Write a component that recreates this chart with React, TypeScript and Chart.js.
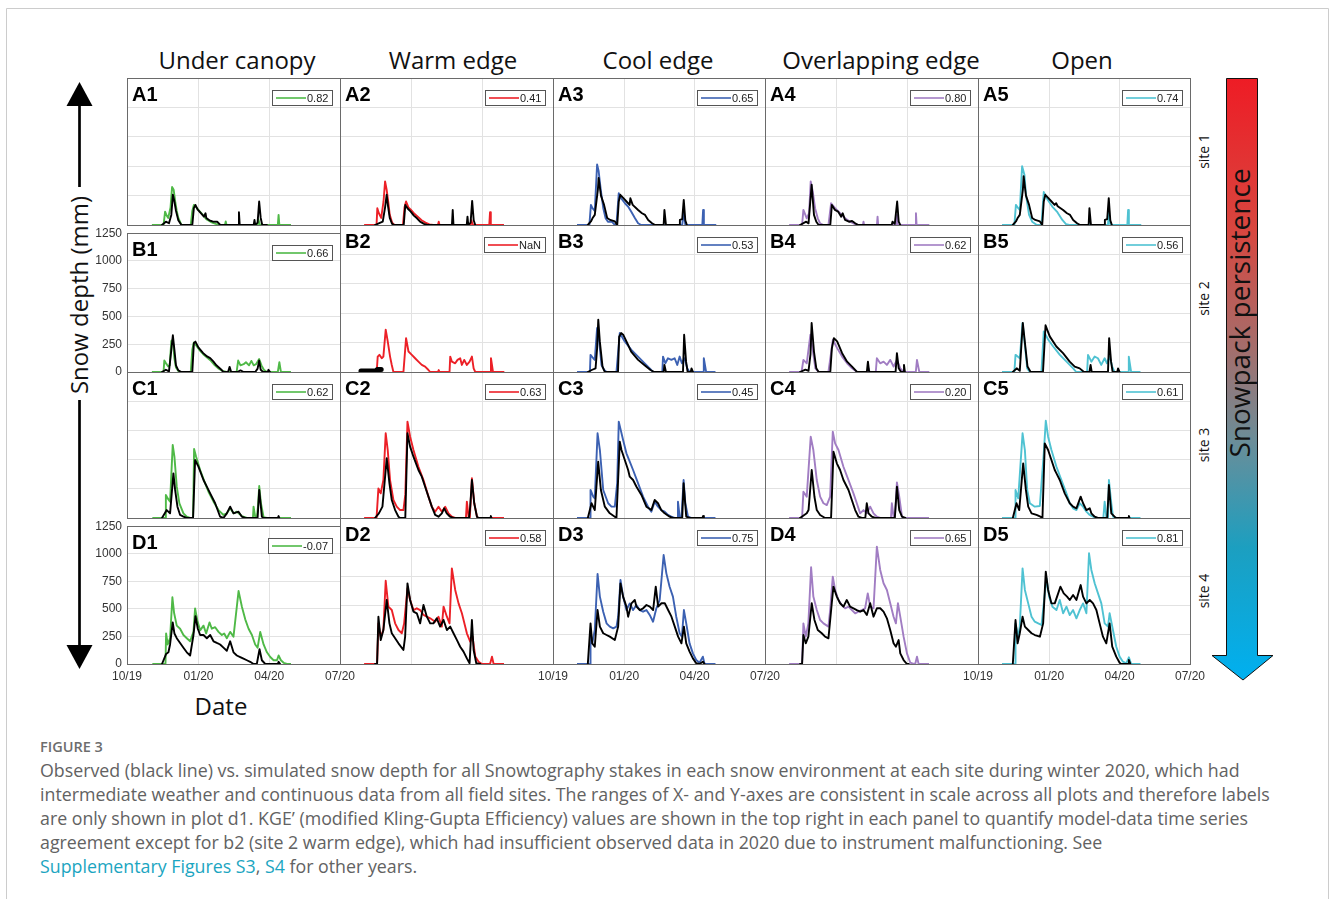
import React, { useEffect, useRef } from "react";
import { Chart, registerables } from "chart.js";

Chart.register(...registerables);

// ---- axes (x = days since 1 Oct 2019, y = snow depth in mm) ----
const dateTickDays = [0, 92, 183, 274];
const dateTickLabels = ["10/19", "01/20", "04/20", "07/20"];
const depthTicks = [0, 250, 500, 750, 1000, 1250];

const environments = ["Under canopy", "Warm edge", "Cool edge", "Overlapping edge", "Open"];
const siteNames = ["site 1", "site 2", "site 3", "site 4"];
const rowLetters = ["A", "B", "C", "D"];
const envColors = ["#4fb947", "#ec2027", "#3c61b2", "#a17dc3", "#4fc2d2"];

// KGE' per environment, one list per site
const kgeSite1 = [0.82, 0.41, 0.65, 0.8, 0.74];
const kgeSite2 = [0.66, NaN, 0.53, 0.62, 0.56];
const kgeSite3 = [0.62, 0.63, 0.45, 0.2, 0.61];
const kgeSite4 = [-0.07, 0.58, 0.75, 0.65, 0.81];

type Pt = [number, number];

// ---- site 1 ----
const simA1: Pt[] = [[32,0],[47,0],[49,114],[51,80],[53,60],[56,150],[58,323],[60,300],[62,200],[64,120],[66,60],[70,0],[82,0],[84,120],[86,171],[89,150],[93,120],[97,90],[102,50],[108,25],[114,10],[120,0],[126,0],[127,30],[128,0],[168,0],[169,50],[171,0],[194,0],[195,86],[196,0],[211,0]];
const obsA1: Pt[] = [[45,0],[50,28],[54,15],[57,86],[59,257],[61,200],[63,120],[66,40],[70,0],[84,0],[86,143],[88,171],[91,130],[95,100],[99,71],[101,100],[102,60],[106,40],[110,30],[116,28],[120,0],[143,0],[144,108],[145,0],[163,0],[164,43],[165,0],[168,20],[170,200],[172,60],[174,0],[180,0]];
const simA2: Pt[] = [[31,0],[47,0],[48,143],[50,100],[53,60],[56,200],[58,371],[60,300],[62,200],[64,86],[67,20],[70,0],[81,0],[83,150],[85,200],[88,150],[91,130],[95,100],[100,70],[105,40],[110,20],[115,5],[120,0],[126,0],[127,28],[128,0],[168,0],[169,40],[171,0],[192,0],[193,108],[194,0],[211,0]];
const obsA2: Pt[] = [[45,0],[52,20],[55,28],[58,150],[60,257],[62,150],[64,60],[67,10],[70,0],[82,0],[84,171],[87,140],[91,114],[95,80],[99,57],[103,28],[108,10],[112,0],[144,0],[145,128],[146,0],[163,0],[164,71],[165,0],[168,20],[170,205],[172,40],[174,0]];
const simA3: Pt[] = [[31,0],[47,0],[49,171],[51,143],[54,120],[57,514],[59,457],[62,285],[65,143],[68,57],[71,28],[76,28],[80,0],[82,0],[85,271],[88,228],[93,185],[97,157],[101,114],[106,57],[110,15],[114,0],[167,0],[169,114],[171,0],[193,0],[194,128],[195,0],[211,0]];
const obsA3: Pt[] = [[45,0],[49,30],[51,57],[54,86],[58,300],[59,400],[62,250],[66,171],[70,60],[74,43],[80,30],[83,0],[85,200],[87,257],[91,228],[95,200],[99,171],[100,228],[103,171],[110,128],[115,100],[119,86],[123,43],[128,15],[132,0],[143,0],[144,128],[146,0],[163,0],[164,43],[167,50],[169,214],[171,40],[173,0]];
const simA4: Pt[] = [[31,0],[47.7,0],[49.4,128],[53.7,57],[56.7,100],[58.8,371],[61.4,285],[64.4,143],[67.9,57],[70.9,14],[75.2,0],[81.6,0],[85,185],[90.2,143],[96.6,100],[103.1,57],[109.5,28],[116,6],[120.2,0],[126,0],[126.7,28],[127.5,0],[144,0],[144.8,71],[145.6,0],[168.8,0],[169.7,86],[170.5,0],[193.3,0],[194.2,100],[195,0],[211.4,0]];
const obsA4: Pt[] = [[45,0],[53,28],[56,14],[60,342],[63,86],[66,28],[69,0],[84,0],[86,171],[90,128],[94,114],[98,71],[100,100],[103,43],[108,28],[112,34],[116,14],[120,0],[163,0],[164,28],[167,10],[170,200],[172,28],[174,0]];
const simA5: Pt[] = [[31,0],[47,0],[49,171],[52,143],[54,128],[57,500],[60,428],[62,257],[66,86],[70,28],[76,0],[82,0],[85,280],[90,214],[96,157],[102,114],[109,43],[114,6],[118,0],[168,0],[169,114],[171,0],[193,0],[194,128],[195,0],[211,0]];
const obsA5: Pt[] = [[45,0],[49,30],[51,57],[54,86],[58,300],[59,414],[62,250],[66,171],[70,60],[74,43],[80,30],[83,0],[85,200],[87,257],[91,228],[95,200],[99,171],[101,185],[103,160],[110,128],[115,100],[119,86],[123,43],[128,15],[132,0],[143,0],[144,143],[146,0],[163,0],[164,43],[167,50],[169,228],[171,40],[173,0]];

// ---- site 2 ----
const simB1: Pt[] = [[32,0],[47,0],[48,103],[50,80],[53,50],[55,60],[57,280],[59,290],[61,120],[63,40],[66,10],[68,0],[82,0],[84,200],[86,265],[89,240],[93,200],[98,160],[103,130],[108,100],[113,60],[118,30],[123,10],[128,0],[141,0],[143,103],[146,60],[150,70],[153,88],[157,60],[160,100],[163,60],[166,70],[170,117],[173,60],[176,20],[180,0],[194,0],[196,88],[198,0],[211,0]];
const obsB1: Pt[] = [[45,0],[50,20],[54,5],[57,200],[59,331],[61,200],[63,60],[66,15],[70,0],[84,0],[86,260],[88,274],[92,220],[98,170],[103,140],[107,125],[111,95],[115,60],[120,30],[124,0],[130,0],[132,46],[134,0],[142,0],[146,15],[150,0],[165,0],[168,30],[170,103],[172,20],[175,0],[181,0],[182,20],[184,0]];
const simB2: Pt[] = [[31.4,0],[47.2,0],[48.5,131],[50.7,146],[53.7,117],[55.8,131],[58.8,360],[61.4,260],[64.4,131],[66.6,60],[68.7,0],[81.6,0],[85,288],[88.1,174],[92.4,146],[96.6,117],[100.9,88],[105.2,60],[109.5,46],[113.8,17],[116,0],[125.9,0],[127,17],[128,0],[140.9,0],[141.8,131],[143.9,88],[148.2,74],[151.2,103],[154.6,117],[156.8,60],[159.8,103],[163.2,60],[166.7,88],[169.7,131],[171.9,31],[174,0],[193.3,0],[194.2,117],[196.8,0],[211.4,0]];
const obsB2: Pt[] = [[27,8],[46,8],[48,22],[53,22]];
const simB3: Pt[] = [[31,0],[47.7,0],[48.5,146],[52,117],[54,103],[57,374],[59.7,260],[62.7,60],[66.2,17],[69.2,0],[82,0],[86.3,331],[92.7,260],[101.3,188],[109.9,131],[118.5,74],[125,31],[129.3,0],[141.3,0],[142.2,131],[145.2,74],[148.6,117],[153,103],[157.2,117],[160.6,60],[163.7,131],[166.6,74],[170,117],[173.5,31],[176.5,0],[194,0],[194.9,117],[197.9,0],[210,0]];
const obsB3: Pt[] = [[45,0],[50,17],[55,31],[57,200],[58.5,445],[60.5,260],[64,46],[67,0],[84,0],[85.5,300],[88,331],[91,314],[96,245],[101,174],[110,103],[118,60],[126,17],[131,0],[143,0],[144,60],[146,0],[168,0],[169.5,317],[172,88],[174,0],[178,0],[179,31],[181,0]];
const simB4: Pt[] = [[31,0],[47,0],[49.4,103],[53.7,74],[58.4,317],[61.7,174],[64.8,31],[69,0],[81.6,0],[87.3,274],[92.8,203],[99.2,131],[105.6,74],[112,31],[118.4,0],[132,0],[133.2,31],[134.5,0],[142.5,0],[143.9,117],[148.2,74],[152.5,88],[156.8,60],[161.1,103],[165.4,46],[169.7,103],[174,31],[178.3,0],[194,0],[195.5,103],[198.5,0],[211.4,0]];
const obsB4: Pt[] = [[45,0],[52,20],[56,10],[58.5,150],[60,417],[63,174],[66,31],[69,0],[84,0],[86,200],[88.6,288],[92.8,260],[99.2,160],[105.6,88],[112,46],[118.4,0],[131,0],[132.4,88],[134,0],[168,0],[169.7,160],[172,31],[175,0],[178,0],[178.8,60],[180,0]];
const simB5: Pt[] = [[31,0],[47,0],[48.5,146],[54,117],[57.6,417],[60.6,231],[63.6,31],[67,0],[82,0],[85,345],[90.8,274],[97.2,217],[105.8,146],[114.4,88],[123,31],[127,0],[141,0],[142.2,146],[146.5,88],[150.8,131],[155,117],[159.3,60],[163.7,117],[166.6,74],[170,131],[173.5,46],[176.5,0],[194,0],[194.9,131],[197.9,0],[210,0]];
const obsB5: Pt[] = [[45,0],[50,31],[54,10],[57.9,417],[61.4,203],[64,46],[68,0],[84,0],[87.3,397],[92.7,303],[101.3,217],[109.9,160],[118.5,88],[125,46],[131.4,31],[137,0],[144,0],[145.5,60],[147,0],[168,0],[169.5,288],[172,88],[174,0],[180,0],[181,31],[183,0]];

// ---- site 3 ----
const simC1: Pt[] = [[32.6,0],[49,0],[50,197],[52.4,168],[55.4,140],[58.8,625],[61,525],[64,268],[67.4,126],[72.6,40],[76.9,11],[81,0],[85,0],[86.3,591],[88.9,525],[94.1,411],[100.5,297],[104.8,225],[111.3,140],[117.7,68],[124.1,26],[128.4,40],[132.7,83],[137,40],[141.3,54],[147.8,17],[154.2,0],[162,0],[162.8,97],[164.9,11],[167,0],[168.5,100],[170.1,274],[172.3,126],[175.7,6],[180,0],[211,0]];
const obsC1: Pt[] = [[45,0],[51.1,68],[55.4,40],[59.7,382],[61.9,240],[64.9,97],[68.3,26],[72.6,11],[76.9,0],[85,0],[87.6,497],[91.9,440],[98.4,325],[102.7,268],[107,211],[113.4,126],[119.8,11],[124.1,0],[128.4,40],[132.7,97],[137,40],[143.5,54],[147.8,11],[152,0],[168,0],[170.1,240],[173.5,11],[176,0],[194,0],[195,17],[196,0]];
const simC2: Pt[] = [[31,0],[47,0],[49.4,254],[52.4,211],[55.8,325],[58.8,725],[61.4,582],[64.4,325],[68.7,154],[73,97],[77.3,68],[81.6,68],[84,200],[86.8,825],[90.2,696],[94.5,582],[100.9,439],[107.4,325],[113.8,183],[118.1,97],[122.4,54],[126.7,97],[131,54],[135.3,97],[139.6,40],[143.9,11],[148.2,0],[162,0],[163.2,140],[165.4,11],[167,0],[169.7,340],[172.7,126],[176.2,11],[178,0],[211,0]];
const obsC2: Pt[] = [[45,0],[50,40],[54.6,97],[60.1,511],[63.6,297],[66.6,154],[70.9,68],[75.2,11],[77.3,0],[84,0],[86.8,725],[90.2,611],[94.5,525],[100.9,411],[105.2,354],[109.5,268],[113.8,183],[118.1,97],[122.4,26],[126.7,11],[131,40],[134,83],[137.3,40],[141.6,11],[146,0],[166,0],[167.5,97],[169.7,325],[172.7,126],[176.2,11],[178,0],[193,0],[194,17],[195,0]];
const simC3: Pt[] = [[31,0],[48,0],[48.5,240],[52,183],[54,168],[57.6,725],[60.6,582],[64.9,240],[71.3,126],[75.6,97],[79.9,97],[83,300],[85,825],[90.6,668],[94.9,554],[99.2,482],[103.5,411],[110,297],[116.4,183],[122.8,97],[127.1,54],[131.4,140],[135.7,97],[140,68],[144.3,54],[148.6,26],[152.9,11],[157.2,0],[161,0],[161.5,140],[163.7,11],[166,0],[168.8,325],[171,126],[174.5,11],[178.5,0],[210,0]];
const obsC3: Pt[] = [[45,0],[49.8,126],[54,68],[58.4,482],[61.9,240],[67,97],[73.4,40],[79.9,11],[82,0],[86.3,654],[88.5,582],[92.8,497],[97.1,411],[99.2,354],[103.5,325],[107.9,268],[114.3,197],[120.7,97],[127.1,68],[131.4,154],[135.7,126],[140,68],[144.3,40],[150.7,11],[155,0],[167,0],[168.8,297],[172.2,11],[176.5,0],[193,0],[194,17],[195,0]];
const simC4: Pt[] = [[31,0],[47.7,0],[49.4,225],[53.7,183],[58.8,696],[62.2,582],[66.6,325],[70.9,183],[75.2,126],[79.5,111],[83.8,183],[87.2,739],[90.2,639],[94.5,582],[100.9,439],[107.4,325],[113.8,211],[118.1,126],[122.4,40],[126.7,68],[131,40],[135.3,97],[139.6,40],[143.9,11],[148.2,0],[162,0],[163.2,126],[165.4,11],[167,0],[169.7,305],[172.7,183],[176.2,11],[178.5,0],[211,0]];
const obsC4: Pt[] = [[45,0],[53.7,40],[56,68],[60.1,411],[63.6,182],[66.6,68],[70.9,26],[77.3,0],[85,0],[88.1,568],[92.4,468],[96.6,411],[100.9,325],[107.4,240],[111.7,154],[116,68],[120.2,11],[124.5,0],[129,0],[130.9,126],[133.2,40],[137.5,11],[141.8,0],[167,0],[169.7,268],[172.7,68],[176.2,11],[180.5,0]];
const simC5: Pt[] = [[31,0],[48,0],[48.5,240],[52,168],[57.6,725],[60.6,582],[63.6,240],[67,126],[73.4,97],[79.9,103],[85,554],[87.6,833],[90.6,696],[94.9,582],[101.4,439],[107.8,325],[114.3,211],[118.6,126],[122.9,83],[127.2,68],[131.5,126],[135.8,97],[140.1,54],[144.4,26],[148.7,11],[153,0],[162,0],[163.7,140],[165.8,11],[168,0],[169.2,325],[172.3,126],[174.5,11],[178.6,0],[210,0]];
const obsC5: Pt[] = [[45,0],[49.8,126],[53.3,68],[58.4,468],[61.9,240],[64.9,97],[69.2,40],[75.6,26],[80.7,11],[83.3,0],[86.3,639],[90.6,582],[94.9,497],[99.2,411],[101.4,382],[105.7,325],[112.1,211],[118.6,126],[122.9,97],[127.2,83],[132.7,183],[135.8,126],[140.1,68],[144.4,83],[146.5,40],[150.8,11],[155,0],[167,0],[169.2,282],[172.3,40],[176.5,11],[178.6,0],[194,0],[195,17],[196,0]];

// ---- site 4 ----
const simD1: Pt[] = [[32.6,0],[49.5,0],[50.3,277],[52.4,177],[55.4,234],[58.4,605],[60.6,462],[64,348],[68.3,320],[72.6,263],[76.9,234],[81.2,206],[85.5,291],[87.6,505],[90.6,391],[94.1,305],[98.4,348],[101.8,277],[106.1,377],[109.1,320],[113.4,334],[117.7,291],[122,263],[125,277],[128.4,234],[132.7,291],[137,248],[143.5,662],[147.8,519],[152.1,405],[156.4,320],[160.7,263],[164.9,177],[168,148],[171.4,291],[175.7,177],[180,106],[184.3,63],[188.6,34],[192.9,34],[195,77],[198,34],[201.5,11],[205.8,0],[211,0]];
const obsD1: Pt[] = [[45,0],[50.3,91],[53.3,106],[55.4,177],[58.8,377],[61,277],[64,234],[68.3,191],[72.6,148],[76.9,106],[81.2,77],[85.5,263],[88.1,434],[91.1,320],[94.1,263],[98.4,263],[102.7,234],[107,263],[111.3,206],[115.5,191],[119.8,177],[124.1,148],[128.4,120],[132.7,206],[137,106],[141.3,77],[145.6,63],[149.9,48],[154.2,34],[158.5,20],[162.8,0],[167,0],[170.5,134],[173.5,34],[177.8,0],[194,0],[195,20],[197,0]];
const simD2: Pt[] = [[31,0],[47.7,0],[49.4,348],[52.4,234],[55.8,291],[58.8,713],[62.2,491],[66.6,462],[70.9,348],[75.2,291],[79.5,263],[82.5,348],[86.8,648],[90.2,548],[94.5,462],[98.8,477],[103.1,462],[107.4,420],[111.7,405],[116,391],[122.4,362],[126.7,405],[131,320],[133.2,491],[137.5,405],[140.9,348],[143.9,819],[148.2,634],[152.5,519],[156.8,434],[163.2,263],[167.5,191],[170.5,234],[174,63],[178.3,20],[182.6,0],[192,0],[193.3,6],[195.5,63],[197.6,0],[211,0]];
const obsD2: Pt[] = [[45,0],[47.7,0],[49.4,405],[52.4,205],[55.8,291],[60.1,548],[63.6,348],[66.6,263],[70.9,220],[75.2,177],[81.6,120],[83.8,234],[86.8,690],[90.2,548],[94.5,448],[98.8,434],[103.1,348],[107.4,505],[111.7,405],[116,348],[120.2,348],[124.5,391],[128.8,320],[133.2,377],[137.5,291],[141.8,320],[146,263],[150.3,206],[154.6,148],[158.9,106],[163.2,48],[166.7,6],[169.7,377],[171.9,120],[175.3,6],[180.5,0]];
const simD3: Pt[] = [[31,0],[48,0],[48.5,263],[50.7,177],[54,291],[57.6,771],[60.6,577],[64.9,448],[69.2,348],[73.4,320],[77.8,305],[82.1,320],[84.2,405],[87.2,719],[90.6,577],[94.9,462],[99.2,519],[103.5,462],[107.8,505],[112.1,462],[116.4,448],[120.7,462],[125,420],[129.3,362],[133.6,477],[137.9,548],[143,933],[146.5,776],[150.7,662],[155,577],[159.3,405],[163.7,263],[166.6,234],[169.2,462],[172.2,348],[176.5,177],[180.8,91],[185.1,34],[189.4,11],[193.7,63],[195.9,0],[210,0]];
const obsD3: Pt[] = [[45,0],[48.5,348],[50.7,177],[54,148],[57.6,462],[60.6,320],[64.9,263],[69.2,248],[73.4,234],[79.9,206],[84.2,320],[87.2,690],[90.6,577],[94.9,491],[97.1,405],[101.4,519],[105.7,548],[107.9,491],[112.2,462],[116.5,477],[120.8,505],[125.1,491],[129.4,462],[132.8,662],[135.9,491],[140.2,520],[144.5,520],[148.8,462],[153.1,405],[157.4,320],[161.7,234],[166,177],[169.2,320],[172.2,177],[176.5,106],[180.8,48],[185.1,6],[189.4,0],[193.7,20],[195.9,0]];
const simD4: Pt[] = [[31,0],[47.7,0],[49.4,348],[52.4,234],[55.8,348],[59.3,828],[62.2,577],[66.6,462],[70.9,377],[75.2,348],[81.6,320],[83.8,462],[87.2,748],[90.2,634],[94.5,548],[98.8,505],[103.1,477],[107.4,491],[111.7,462],[116,434],[120.2,448],[124.5,462],[128.8,477],[132.2,605],[135.3,491],[139.6,477],[143.9,1005],[148.2,805],[152.5,691],[156.8,634],[161.1,520],[165.4,405],[168.4,348],[171,520],[174,405],[178.3,234],[182.6,91],[186.9,11],[191.2,0],[193.5,6],[195.5,63],[197.6,0],[211,0]];
const obsD4: Pt[] = [[45,0],[47.7,0],[49.4,248],[52.4,177],[55.8,234],[60.1,520],[63.6,377],[67.9,291],[73,263],[77.3,234],[81.6,220],[85.9,520],[88,662],[92.4,577],[96.6,520],[100.9,491],[105.2,548],[109.5,491],[113.8,477],[118.1,462],[122.4,448],[126.7,462],[131,420],[135.3,520],[139.6,405],[143.9,477],[148.2,477],[152.5,448],[156.8,391],[161.1,291],[165.4,177],[168.4,148],[171.9,205],[174,91],[178.3,34],[182.6,0],[185,0]];
const simD5: Pt[] = [[31,0],[48,0],[48.5,348],[52,234],[54,320],[57.6,819],[60.6,634],[64.9,519],[69.2,405],[73.4,362],[77.8,348],[82.1,334],[85,519],[88.5,734],[91.9,577],[96.2,491],[101.4,462],[105.7,548],[110,434],[114.3,491],[118.6,419],[122.9,462],[127.2,391],[131.5,462],[135.8,519],[140.1,434],[143.5,948],[146.5,805],[150.8,691],[155.1,605],[159.4,519],[163.7,348],[168,320],[170.1,434],[174.4,291],[178.7,148],[183,63],[187.3,20],[191.6,6],[195,57],[198,0],[210,0]];
const obsD5: Pt[] = [[45,0],[48.5,377],[51.2,177],[54,263],[57.6,405],[60.6,320],[64.9,291],[69.2,263],[73.4,248],[80,234],[84.2,348],[87.6,791],[90.6,634],[94.9,519],[99.2,519],[102.2,577],[106.5,662],[110.8,605],[115.1,577],[118.6,548],[122.9,591],[127.2,548],[132.7,676],[135.8,577],[140.1,519],[144.4,548],[148.7,519],[153,462],[157.2,348],[161.5,234],[165.8,177],[170.1,348],[173.5,148],[178.7,63],[183,11],[185.1,0],[194,0],[195,34],[197,0]];

const simulated: Pt[][][] = [
  [simA1, simA2, simA3, simA4, simA5],
  [simB1, simB2, simB3, simB4, simB5],
  [simC1, simC2, simC3, simC4, simC5],
  [simD1, simD2, simD3, simD4, simD5],
];
const observed: Pt[][][] = [
  [obsA1, obsA2, obsA3, obsA4, obsA5],
  [obsB1, obsB2, obsB3, obsB4, obsB5],
  [obsC1, obsC2, obsC3, obsC4, obsC5],
  [obsD1, obsD2, obsD3, obsD4, obsD5],
];
const kgeBySite = [kgeSite1, kgeSite2, kgeSite3, kgeSite4];

// ---- panel grid geometry (page pixels) ----
const colLeft = [127, 340, 553, 765, 978];
const colWidth = [213, 213, 212, 213, 212];
const rowTop = [78, 225, 372, 518];
const rowHeight = [147, 147, 146, 146];
const headerX = [237, 453, 658, 881, 1082];

// canvas margins around each plot area
const PAD_L = 2;
const AXIS_W = 40;
const PAD_R = 22;
const PAD_T = 4;
const AXIS_H = 22;
const PAD_B = 2;

const TICK_FONT = { family: "'Liberation Sans', Arial, sans-serif", size: 12 };

const panelDecor = {
  id: "panelDecor",
  afterDraw(chart: any, _args: any, opts: any) {
    const { ctx, chartArea } = chart;
    const { left, top, right, bottom } = chartArea;
    ctx.save();
    // axes box
    ctx.strokeStyle = "#6a6a6a";
    ctx.lineWidth = 1;
    ctx.strokeRect(Math.round(left) + 0.5, Math.round(top) + 0.5, Math.round(right - left), Math.round(bottom - top));
    // panel tag
    ctx.fillStyle = "#000";
    ctx.font = "bold 20px 'Liberation Sans', Arial, sans-serif";
    ctx.textBaseline = "alphabetic";
    ctx.textAlign = "left";
    ctx.fillText(opts.tag, left + 5, top + 23);
    // KGE legend box
    ctx.font = "11px 'Liberation Sans', Arial, sans-serif";
    const txt = opts.kge;
    const tw = ctx.measureText(txt).width;
    const bw = Math.round(39 + tw);
    const bh = 15;
    const bx = Math.round(right - 8 - bw);
    const by = Math.round(top + 12);
    ctx.fillStyle = "#fff";
    ctx.fillRect(bx, by, bw, bh);
    ctx.strokeStyle = "#555";
    ctx.strokeRect(bx + 0.5, by + 0.5, bw, bh);
    ctx.strokeStyle = opts.color;
    ctx.lineWidth = 1.6;
    ctx.beginPath();
    ctx.moveTo(bx + 4, by + bh / 2 + 0.5);
    ctx.lineTo(bx + 34, by + bh / 2 + 0.5);
    ctx.stroke();
    ctx.fillStyle = "#222";
    ctx.textBaseline = "middle";
    ctx.fillText(txt, bx + 35, by + bh / 2 + 1);
    ctx.restore();
  },
};

function toXY(pts: Pt[]) {
  return pts.map(([x, y]) => ({ x, y }));
}

function fmtKge(v: number) {
  return Number.isNaN(v) ? "NaN" : v.toFixed(2);
}

function Panel({ row, col }: { row: number; col: number }) {
  const ref = useRef<HTMLCanvasElement>(null);
  const w = colWidth[col];
  const h = rowHeight[row];
  const cw = w + PAD_L + AXIS_W + PAD_R;
  const ch = h + PAD_T + AXIS_H + PAD_B;
  const showY = col === 0 && (row === 1 || row === 3);
  const showX = row === 3 && col % 2 === 0;

  useEffect(() => {
    if (!ref.current) return;
    const thickObs = row === 1 && col === 1;
    const chart = new Chart(ref.current, {
      type: "line",
      data: {
        datasets: [
          {
            label: "observed",
            data: toXY(observed[row][col]),
            borderColor: "#000",
            borderWidth: thickObs ? 5 : 1.9,
            borderCapStyle: "round",
            borderJoinStyle: "round",
            pointRadius: 0,
            tension: 0,
          },
          {
            label: "simulated",
            data: toXY(simulated[row][col]),
            borderColor: envColors[col],
            borderWidth: 1.9,
            borderJoinStyle: "round",
            pointRadius: 0,
            tension: 0,
          },
        ],
      },
      options: {
        animation: false,
        responsive: false,
        maintainAspectRatio: false,
        devicePixelRatio: 1,
        events: [],
        layout: { padding: { left: PAD_L, right: PAD_R, top: PAD_T, bottom: PAD_B } },
        plugins: {
          legend: { display: false },
          tooltip: { enabled: false },
          panelDecor: {
            tag: rowLetters[row] + (col + 1),
            kge: fmtKge(kgeBySite[row][col]),
            color: envColors[col],
          },
        } as any,
        scales: {
          x: {
            type: "linear",
            min: dateTickDays[0],
            max: dateTickDays[dateTickDays.length - 1],
            afterBuildTicks: (s: any) => {
              s.ticks = dateTickDays.map((v) => ({ value: v }));
            },
            afterFit: (s: any) => {
              s.height = AXIS_H;
            },
            grid: { color: "#e2e2e2", lineWidth: 1, drawTicks: false },
            border: { display: false },
            ticks: {
              display: showX,
              autoSkip: false,
              maxRotation: 0,
              padding: 5,
              color: "#333",
              font: TICK_FONT,
              callback: (v: any) => dateTickLabels[dateTickDays.indexOf(Number(v))],
            },
          },
          y: {
            type: "linear",
            min: depthTicks[0],
            max: depthTicks[depthTicks.length - 1],
            afterBuildTicks: (s: any) => {
              s.ticks = depthTicks.map((v) => ({ value: v }));
            },
            afterFit: (s: any) => {
              s.width = AXIS_W;
            },
            grid: { color: "#e2e2e2", lineWidth: 1, drawTicks: false },
            border: { display: false },
            ticks: {
              display: showY,
              padding: 5,
              color: "#333",
              font: TICK_FONT,
              callback: (v: any) => String(v),
            },
          },
        },
      },
      plugins: [panelDecor],
    } as any);
    return () => chart.destroy();
  }, [row, col]);

  return (
    <canvas
      ref={ref}
      width={cw}
      height={ch}
      style={{
        position: "absolute",
        left: colLeft[col] - PAD_L - AXIS_W,
        top: rowTop[row] - PAD_T,
        width: cw,
        height: ch,
      }}
    />
  );
}

const SANS = "'Open Sans', 'Noto Sans', sans-serif";

const captionLines = [
  "Observed (black line) vs. simulated snow depth for all Snowtography stakes in each snow environment at each site during winter 2020, which had",
  "intermediate weather and continuous data from all field sites. The ranges of X- and Y-axes are consistent in scale across all plots and therefore labels",
  "are only shown in plot d1. KGE\u2019 (modified Kling-Gupta Efficiency) values are shown in the top right in each panel to quantify model-data time series",
  "agreement except for b2 (site 2 warm edge), which had insufficient observed data in 2020 due to instrument malfunctioning. See",
];

function Decorations() {
  return (
    <svg width={1333} height={899} style={{ position: "absolute", left: 0, top: 0 }}>
      <defs>
        <linearGradient id="persist" x1="0" y1="78" x2="0" y2="680" gradientUnits="userSpaceOnUse">
          <stop offset="0" stopColor="#ee1c25" />
          <stop offset="0.25" stopColor="#d8463f" />
          <stop offset="0.45" stopColor="#a46e6c" />
          <stop offset="0.6" stopColor="#6c8d98" />
          <stop offset="0.78" stopColor="#1c9fc0" />
          <stop offset="1" stopColor="#00b0f0" />
        </linearGradient>
      </defs>
      {/* page frame */}
      <path d="M6.5 899 V8.5 H1328.5 V899" fill="none" stroke="#cccccc" strokeWidth={1} />

      {/* column headers */}
      {environments.map((name, i) => (
        <text key={name} x={headerX[i]} y={69} textAnchor="middle" fontFamily={SANS} fontSize={24} fill="#111">
          {name}
        </text>
      ))}

      {/* site labels */}
      {siteNames.map((s, i) => (
        <text
          key={s}
          transform={`translate(1209 ${rowTop[i] + rowHeight[i] / 2}) rotate(-90)`}
          textAnchor="middle"
          fontFamily={SANS}
          fontSize={14}
          fill="#111"
        >
          {s}
        </text>
      ))}

      {/* y-axis label with arrows */}
      <line x1={79.5} y1={104} x2={79.5} y2={187} stroke="#000" strokeWidth={2.7} />
      <polygon points="79.5,82 66.5,106 92.5,106" fill="#000" />
      <text transform="translate(88 295) rotate(-90)" textAnchor="middle" fontFamily={SANS} fontSize={24} fill="#111">
        Snow depth (mm)
      </text>
      <line x1={79.5} y1={400} x2={79.5} y2={648} stroke="#000" strokeWidth={2.7} />
      <polygon points="66.5,645 92.5,645 79.5,669" fill="#000" />

      {/* x-axis label */}
      <text x={221} y={715} textAnchor="middle" fontFamily={SANS} fontSize={24} fill="#111">
        Date
      </text>

      {/* persistence arrow */}
      <path
        d="M1226.5 78.5 H1257.5 V655.5 H1273 L1243 680 L1212 655.5 H1226.5 Z"
        fill="url(#persist)"
        stroke="#111"
        strokeWidth={1}
      />
      <text transform="translate(1250 313) rotate(-90)" textAnchor="middle" fontFamily={SANS} fontSize={28} fill="#111">
        Snowpack persistence
      </text>

      {/* caption */}
      <text x={40} y={752} fontFamily={SANS} fontSize={14.5} fontWeight={600} fill="#6d6d6d">
        FIGURE 3
      </text>
      {captionLines.map((line, i) => (
        <text key={i} x={40} y={777 + i * 24} fontFamily={SANS} fontSize={17.8} fill="#626262">
          {line}
        </text>
      ))}
      <text x={40} y={777 + 4 * 24} fontFamily={SANS} fontSize={17.8} fill="#626262">
        <tspan fill="#1ba5c1">Supplementary Figures S3</tspan>
        <tspan>, </tspan>
        <tspan fill="#1ba5c1">S4</tspan>
        <tspan> for other years.</tspan>
      </text>
    </svg>
  );
}

export default function App() {
  const cells: { row: number; col: number }[] = [];
  for (let r = 0; r < 4; r++) for (let c = 0; c < 5; c++) cells.push({ row: r, col: c });
  return (
    <div
      style={{
        position: "absolute",
        left: 0,
        top: 0,
        width: 1333,
        height: 899,
        overflow: "hidden",
        background: "#fff",
      }}
    >
      <Decorations />
      {cells.map(({ row, col }) => (
        <Panel key={`${row}-${col}`} row={row} col={col} />
      ))}
    </div>
  );
}
